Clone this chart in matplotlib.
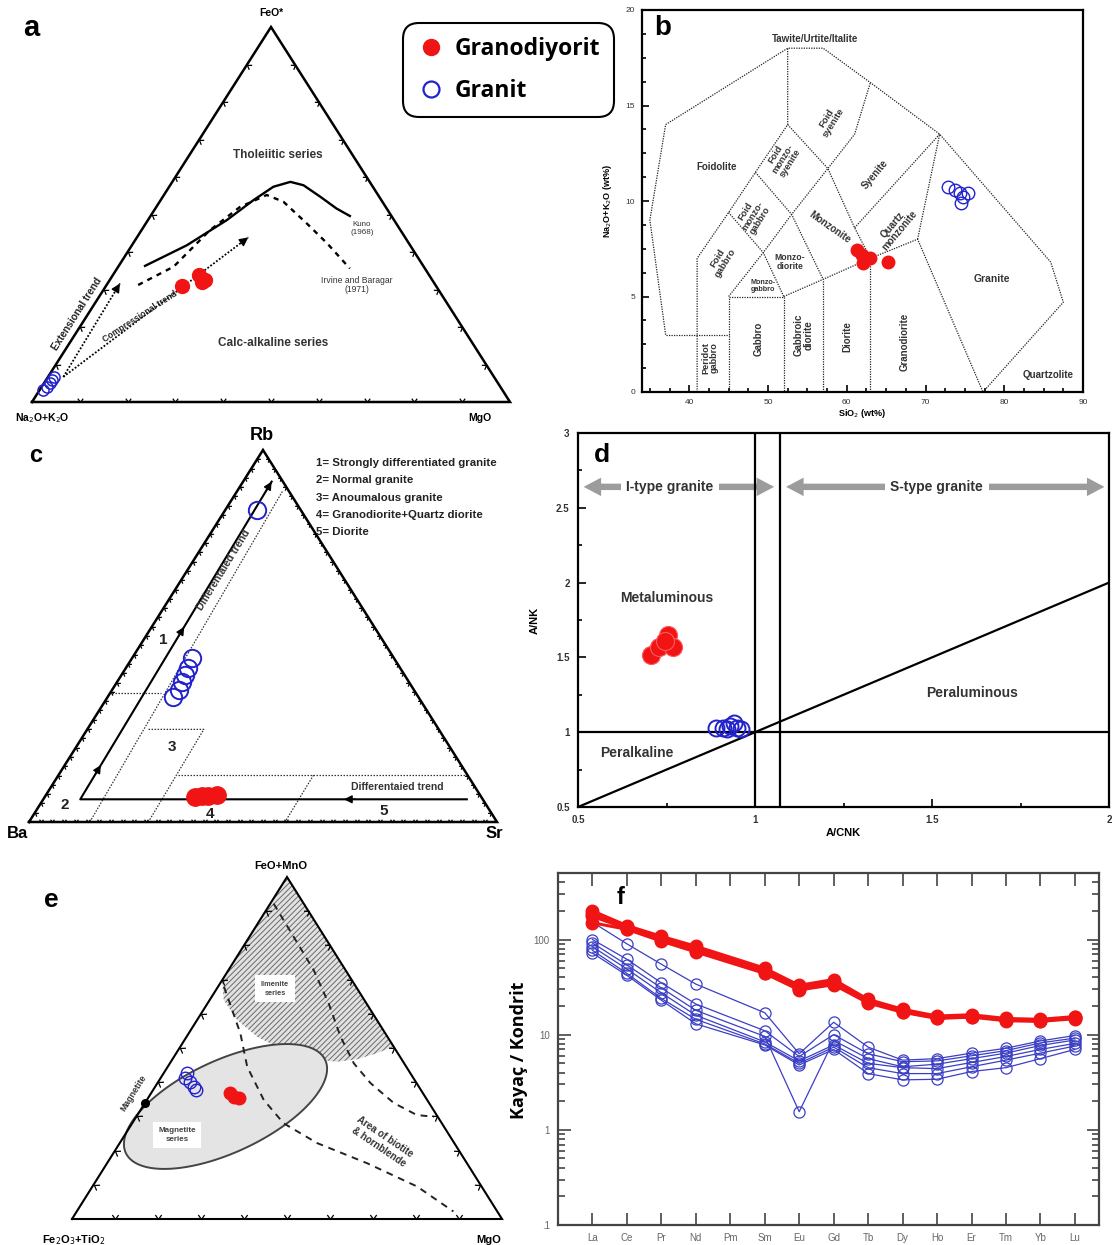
import numpy as np
import matplotlib

matplotlib.use("Agg")
import matplotlib.pyplot as plt
from matplotlib.lines import Line2D
from matplotlib.markers import MarkerStyle
from matplotlib.patches import FancyArrowPatch, Polygon
from matplotlib.path import Path
from matplotlib.ticker import FixedLocator, FormatStrFormatter, LogLocator, MultipleLocator, NullFormatter
from matplotlib.transforms import Affine2D

plt.rcParams["font.family"] = ["Liberation Sans", "DejaVu Sans"]
plt.rcParams["hatch.linewidth"] = 0.7

RED = "#f01414"
BLUE = "#2222cc"
W, H = 1112, 1245

# ---- (a) AFM ternary: fractions of FeO* (apex) and MgO (right corner) ----
afm_gd_feo = [0.309, 0.338, 0.325, 0.320]
afm_gd_mgo = [0.159, 0.181, 0.200, 0.195]
afm_gr_feo = [0.032, 0.041, 0.050, 0.059, 0.067]
afm_gr_mgo = [0.008, 0.011, 0.013, 0.012, 0.012]
kuno_feo = [0.363, 0.418, 0.485, 0.538, 0.574, 0.587, 0.578, 0.547, 0.516, 0.496]
kuno_mgo = [0.055, 0.115, 0.165, 0.194, 0.218, 0.247, 0.279, 0.330, 0.379, 0.417]
irvine_feo = [0.312, 0.361, 0.458, 0.520, 0.552, 0.534, 0.476, 0.423, 0.356]
irvine_mgo = [0.066, 0.116, 0.143, 0.175, 0.215, 0.259, 0.337, 0.406, 0.487]
ext_trend_feo = [0.067, 0.316]
ext_trend_mgo = [0.032, 0.026]
comp_trend_feo = [0.067, 0.439]
comp_trend_mgo = [0.032, 0.233]

# ---- (b) TAS (Middlemost 1994) ----
tas_gd_sio2 = [61.3, 61.9, 62.3, 62.9, 62.1, 65.2]
tas_gd_alk = [7.43, 7.17, 6.91, 7.00, 6.74, 6.82]
tas_gr_sio2 = [72.9, 73.7, 74.4, 75.4, 74.5, 74.8]
tas_gr_alk = [10.75, 10.58, 10.43, 10.40, 9.91, 10.20]
tas_lines = [
    [(37, 3), (35, 9), (37, 14), (52.5, 18), (57, 18), (63, 16.2), (71.8, 13.5),
     (85.9, 6.8), (87.5, 4.7), (77.3, 0)],
    [(37, 3), (45, 3)],
    [(41, 0), (41, 7), (45, 9.4), (48.4, 11.5), (52.5, 14), (52.5, 18)],
    [(45, 0), (45, 5), (52, 5), (52, 0)],
    [(57, 0), (57, 5.9)],
    [(63, 0), (63, 7)],
    [(52, 5), (57, 5.9), (63, 7), (69, 8), (77.3, 0)],
    [(69, 8), (71.8, 13.5)],
    [(45, 5), (49.4, 7.3), (53, 9.3), (57.6, 11.7), (61, 13.5), (63, 16.2)],
    [(45, 9.4), (49.4, 7.3), (52, 5)],
    [(48.4, 11.5), (53, 9.3), (57, 5.9)],
    [(52.5, 14), (57.6, 11.7), (61, 8.6), (63, 7)],
    [(61, 8.6), (71.8, 13.5)],
]
tas_labels = [
    ("Tawite/Urtite/Italite", 56.0, 18.5, 0, 7.0),
    ("Foidolite", 43.5, 11.8, 0, 7.0),
    ("Foid\nsyenite", 57.9, 14.2, 58, 6.8),
    ("Foid\nmonzo-\nsyenite", 51.9, 12.2, 58, 6.6),
    ("Foid\nmonzo-\ngabbro", 48.1, 9.2, 58, 6.6),
    ("Foid\ngabbro", 44.1, 6.9, 58, 6.8),
    ("Monzo-\ndiorite", 52.8, 6.8, 0, 6.2),
    ("Monzo-\ngabbro", 49.4, 5.55, 0, 5.2),
    ("Syenite", 63.6, 11.4, 50, 7.0),
    ("Monzonite", 57.9, 8.6, -35, 7.0),
    ("Quartz\nmonzonite", 66.3, 8.6, 50, 7.0),
    ("Granite", 78.4, 5.9, 0, 7.5),
    ("Granodiorite", 67.4, 2.6, 90, 7.0),
    ("Diorite", 60.1, 2.9, 90, 7.0),
    ("Gabbroic\ndiorite", 54.5, 3.0, 90, 7.0),
    ("Gabbro", 48.8, 2.8, 90, 7.0),
    ("Peridot\ngabbro", 42.6, 1.8, 90, 6.6),
    ("Quartzolite", 85.6, 0.9, 0, 7.0),
]

# ---- (c) Rb-Ba-Sr ternary: fractions of Rb (apex) and Sr (right corner) ----
rbs_gd_rb = [0.068, 0.070, 0.070, 0.072]
rbs_gd_sr = [0.321, 0.334, 0.348, 0.366]
rbs_gr_rb = [0.839, 0.440, 0.413, 0.395, 0.377, 0.355, 0.337]
rbs_gr_sr = [0.067, 0.128, 0.134, 0.136, 0.138, 0.142, 0.140]
rbs_fields = [
    [(0.0, 0.130), (0.892, 0.097)],
    [(0.348, 0.003), (0.348, 0.109)],
    [(0.249, 0.131), (0.249, 0.249), (0.0, 0.255)],
    [(0.126, 0.256), (0.126, 0.876)],
    [(0.126, 0.545), (0.0, 0.547)],
]
rbs_trend = [(0.061, 0.905), (0.061, 0.079), (0.915, 0.061)]
rbs_legend = ["1= Strongly differentiated granite", "2= Normal granite", "3= Anoumalous granite",
              "4= Granodiorite+Quartz diorite", "5= Diorite"]

# ---- (d) Shand index ----
shand_gd_acnk = [0.707, 0.728, 0.753, 0.769, 0.745]
shand_gd_ank = [1.514, 1.570, 1.648, 1.570, 1.610]
shand_gr_acnk = [0.89, 0.91, 0.93, 0.94, 0.95, 0.96, 0.92]
shand_gr_ank = [1.03, 1.03, 1.04, 1.06, 1.03, 1.02, 1.02]
shand_vlines = [1.0, 1.07]
shand_hline = 1.0
shand_diag_x = [0.5, 2.0]
shand_diag_y = [0.5, 2.0]

# ---- (e) FeO+MnO / Fe2O3+TiO2 / MgO ternary ----
mag_gr_fm = [0.426, 0.412, 0.402, 0.387, 0.377]
mag_gr_mgo = [0.054, 0.057, 0.074, 0.090, 0.099]
mag_gd_fm = [0.368, 0.358, 0.353]
mag_gd_mgo = [0.184, 0.197, 0.212]
ilm_fm = [0.698, 0.640, 0.582, 0.533, 0.494, 0.467, 0.460, 0.467, 0.485, 0.504]
ilm_mgo = [0.000, 0.033, 0.093, 0.164, 0.245, 0.329, 0.386, 0.430, 0.467, 0.496]
dash1_fm = [0.922, 0.825, 0.728, 0.630, 0.533, 0.455, 0.397, 0.339, 0.304, 0.299]
dash1_mgo = [0.008, 0.103, 0.198, 0.282, 0.358, 0.428, 0.496, 0.579, 0.650, 0.692]
dash2_fm = [0.679, 0.543, 0.445, 0.348, 0.280, 0.222, 0.163, 0.095, 0.022]
dash2_mgo = [0.014, 0.120, 0.185, 0.272, 0.352, 0.459, 0.605, 0.755, 0.876]
magnetite_fm, magnetite_mgo = 0.34, 0.0

# ---- (f) chondrite-normalised REE ----
ree = ["La", "Ce", "Pr", "Nd", "Pm", "Sm", "Eu", "Gd", "Tb", "Dy", "Ho", "Er", "Tm", "Yb", "Lu"]
ree_used = ["La", "Ce", "Pr", "Nd", "Sm", "Eu", "Gd", "Tb", "Dy", "Ho", "Er", "Tm", "Yb", "Lu"]
ree_gd = [
    [200, 140, 108, 85, 50, 33, 38, 23.5, 18.5, 15.7, 16.2, 14.8, 14.5, 15.5],
    [185, 135, 103, 80, 47, 31, 36, 22.5, 18.0, 15.3, 15.8, 14.4, 14.2, 15.2],
    [175, 130, 98, 76, 45, 30, 34, 22.0, 17.5, 15.0, 15.5, 14.2, 14.0, 15.0],
    [150, 128, 96, 74, 44, 29.5, 33.5, 21.5, 17.2, 14.8, 15.3, 14.0, 13.8, 14.7],
]
ree_gr = [
    [152, 90, 55, 34, 17, 6.3, 13.5, 7.4, 5.4, 5.6, 6.4, 7.2, 8.6, 9.8],
    [100, 62, 35, 21, 11, 5.9, 10.0, 6.3, 5.2, 5.3, 6.0, 6.8, 8.2, 9.2],
    [92, 54, 31, 18, 9.6, 1.55, 8.7, 5.6, 4.6, 4.9, 5.6, 6.4, 7.7, 8.8],
    [84, 49, 27.5, 16, 8.4, 5.3, 7.8, 5.0, 4.5, 4.4, 5.1, 5.9, 7.0, 8.1],
    [77, 44, 24, 14.5, 8.0, 5.0, 7.4, 4.5, 3.9, 3.9, 4.6, 5.4, 6.4, 7.6],
    [72, 42, 23, 13, 7.8, 4.8, 7.0, 3.9, 3.35, 3.4, 4.1, 4.5, 5.6, 7.0],
]

fig = plt.figure(figsize=(W / 100, H / 100), dpi=100)


def add_ax(l, t, r, b):
    return fig.add_axes([l / W, 1 - b / H, (r - l) / W, (b - t) / H])


def ftext(x, y, s, **kw):
    fig.text(x / W, 1 - y / H, s, **kw)


def tern(top, right):
    top = np.asarray(top, float)
    right = np.asarray(right, float)
    return right + top / 2, top


CHEVRON = Path([(-0.7, 1.0), (0.0, 0.0), (0.7, 1.0)], [Path.MOVETO, Path.LINETO, Path.LINETO])


def tri_axes(l, t, r, b, n, tick_ms, frame_lw=1.8):
    ax = add_ax(l, t, r, b)
    ax.set_xlim(0, 1)
    ax.set_ylim(0, 1)
    ax.axis("off")
    ax.plot([0, 1, 0.5, 0], [0, 0, 1, 0], color="k", lw=frame_lw, clip_on=False,
            solid_joinstyle="miter", zorder=3)
    w, h = r - l, b - t
    f = np.arange(1, n) / n
    ang = np.degrees(np.arctan2(h, w / 2))
    for xs, ys, rot in [(f, np.zeros_like(f), 0.0), (f / 2, f, ang - 180), (1 - f / 2, f, 180 - ang)]:
        m = MarkerStyle(CHEVRON, fillstyle="none", transform=Affine2D().rotate_deg(rot))
        ax.plot(xs, ys, ls="none", marker=m, ms=tick_ms, mec="k", mfc="none", mew=0.9,
                clip_on=False, zorder=3)
    return ax


def head(ax, p0, p1, size=11, color="k"):
    ax.annotate("", xy=p1, xytext=p0,
                arrowprops=dict(arrowstyle="-|>", color=color, lw=1.0, shrinkA=0, shrinkB=0,
                                mutation_scale=size))


bold = dict(fontweight="bold")

# ================= (a) =================
ax_a = tri_axes(32, 27, 510, 402, 10, 5.5)
x, y = tern(kuno_feo, kuno_mgo)
ax_a.plot(x, y, color="k", lw=1.7)
x, y = tern(irvine_feo, irvine_mgo)
ax_a.plot(x, y, color="k", lw=1.7, ls=(0, (2.2, 2.2)))
for feo, mgo in [(ext_trend_feo, ext_trend_mgo), (comp_trend_feo, comp_trend_mgo)]:
    x, y = tern(feo, mgo)
    ax_a.plot(x, y, color="k", lw=1.3, ls=(0, (1, 1)))
    head(ax_a, (x[1] - 0.04 * (x[1] - x[0]), y[1] - 0.04 * (y[1] - y[0])), (x[1], y[1]), 13)
x, y = tern(afm_gd_feo, afm_gd_mgo)
ax_a.plot(x, y, "o", ms=10, mfc=RED, mec=RED, zorder=5)
x, y = tern(afm_gr_feo, afm_gr_mgo)
ax_a.plot(x, y, "o", ms=8, mfc="none", mec=BLUE, mew=1.1, zorder=5)
ax_a.text(0.515, 0.659, "Tholeiitic series", ha="center", va="center", fontsize=8.5, color="#333", **bold)
ax_a.text(0.505, 0.156, "Calc-alkaline series", ha="center", va="center", fontsize=8.5, color="#333", **bold)
ax_a.text(0.69, 0.463, "Kuno\n(1968)", ha="center", va="center", fontsize=5.8, color="#333", linespacing=1.1)
ax_a.text(0.68, 0.312, "Irvine and Baragar\n(1971)", ha="center", va="center", fontsize=6.2, color="#333",
          linespacing=1.1)
ax_a.text(0.094, 0.236, "Extensional trend", ha="center", va="center", rotation=57.5, fontsize=7.2,
          color="#222", **bold)
ax_a.text(0.226, 0.227, "Compressional trend", ha="center", va="center", rotation=33, fontsize=6.2,
          color="#222", **bold)
ftext(271, 13, "FeO*", ha="center", va="center", fontsize=7.5, **bold)
ftext(42, 418, "Na$_2$O+K$_2$O", ha="center", va="center", fontsize=7.5, **bold)
ftext(480, 418, "MgO", ha="center", va="center", fontsize=7.5, **bold)

handles = [Line2D([], [], ls="none", marker="o", ms=11.5, mfc=RED, mec=RED),
           Line2D([], [], ls="none", marker="o", ms=11.5, mfc="none", mec=BLUE, mew=1.6)]
leg = fig.legend(handles, ["Granodiyorit", "Granit"], loc="upper left",
                 bbox_to_anchor=(403 / W, 1 - 23 / H), bbox_transform=fig.transFigure,
                 prop=dict(family=["Open Sans", "DejaVu Sans"], weight="bold", size=16.5),
                 frameon=True, fancybox=True, framealpha=1, edgecolor="k", borderpad=0.6,
                 handletextpad=0.45, labelspacing=0.8, handlelength=1.2, borderaxespad=0)
leg.get_frame().set_linewidth(1.5)
leg.get_frame().set_boxstyle("round,pad=0,rounding_size=0.7")

# ================= (b) =================
ax_b = add_ax(642, 10, 1083, 392)
ax_b.set_xlim(34, 90)
ax_b.set_ylim(0, 20)
for line in tas_lines:
    xs, ys = zip(*line)
    ax_b.plot(xs, ys, color="#222", lw=0.9, ls=(0, (1, 1)))
for s, tx, ty, rot, fs in tas_labels:
    ax_b.text(tx, ty, s, ha="center", va="center", rotation=rot, fontsize=fs, color="#333",
              linespacing=0.95, **bold)
ax_b.plot(tas_gd_sio2, tas_gd_alk, "o", ms=9, mfc=RED, mec=RED, zorder=5)
ax_b.plot(tas_gr_sio2, tas_gr_alk, "o", ms=9, mfc="none", mec=BLUE, mew=1.0, zorder=5)
ax_b.xaxis.set_major_locator(MultipleLocator(10))
ax_b.xaxis.set_minor_locator(MultipleLocator(2.5))
ax_b.yaxis.set_major_locator(MultipleLocator(5))
ax_b.yaxis.set_minor_locator(MultipleLocator(1.25))
ax_b.tick_params(which="both", direction="in", labelsize=6, width=1.2, pad=5, labelcolor="#333")
ax_b.tick_params(which="major", length=5)
ax_b.tick_params(which="minor", length=3)
for sp in ax_b.spines.values():
    sp.set_linewidth(1.6)
ax_b.set_xlabel("SiO$_2$ (wt%)", fontsize=6.5, labelpad=1, **bold)
ax_b.set_ylabel("Na$_2$O+K$_2$O (wt%)", fontsize=6.5, labelpad=8, **bold)

# ================= (c) =================
ax_c = tri_axes(29, 450, 497, 822, 40, 4.0)
for line in rbs_fields:
    x, y = tern(*zip(*line))
    ax_c.plot(x, y, color="#333", lw=0.9, ls=(0, (1.2, 1.2)))
x, y = tern(*zip(*rbs_trend))
ax_c.plot(x, y, color="k", lw=1.5)
for seg, ts in [((0, 1), [0.318, 0.729]), ((1, 2), [0.108, 0.543, 1.0])]:
    p0 = np.array([x[seg[0]], y[seg[0]]])
    p1 = np.array([x[seg[1]], y[seg[1]]])
    for t in ts:
        head(ax_c, p0 + (t - 0.03) * (p1 - p0), p0 + t * (p1 - p0), 12)
x, y = tern(rbs_gr_rb, rbs_gr_sr)
ax_c.plot(x, y, "o", ms=12.5, mfc="none", mec=BLUE, mew=1.4, zorder=5)
x, y = tern(rbs_gd_rb, rbs_gd_sr)
ax_c.plot(x, y, "o", ms=12.5, mfc=RED, mec=RED, zorder=5)
for s, tx, ty in [("1", 0.287, 0.489), ("2", 0.077, 0.046), ("3", 0.305, 0.202), ("4", 0.387, 0.022),
                  ("5", 0.757, 0.030)]:
    ax_c.text(tx, ty, s, ha="center", va="center", fontsize=11, color="#222", **bold)
ax_c.text(0.415, 0.677, "Differentaied trend", ha="center", va="center", rotation=58.5, fontsize=7.5,
          color="#333", **bold)
ax_c.text(0.786, 0.093, "Differentaied trend", ha="center", va="center", fontsize=7.5, color="#333", **bold)
for i, s in enumerate(rbs_legend):
    ftext(316, 463 + 17.3 * i, s, ha="left", va="center", fontsize=8.2, color="#222",
          family=["Liberation Sans Narrow", "Liberation Sans", "DejaVu Sans"], **bold)
ftext(262, 436, "Rb", ha="center", va="center", fontsize=13, **bold)
ftext(17, 834, "Ba", ha="center", va="center", fontsize=12, **bold)
ftext(494, 834, "Sr", ha="center", va="center", fontsize=12, **bold)

# ================= (d) =================
ax_d = add_ax(578, 433, 1109, 807)
ax_d.set_xlim(0.5, 2)
ax_d.set_ylim(0.5, 3)
for xv in shand_vlines:
    ax_d.axvline(xv, color="k", lw=1.6)
ax_d.axhline(shand_hline, color="k", lw=1.6)
ax_d.plot(shand_diag_x, shand_diag_y, color="k", lw=1.6)
ax_d.plot(shand_gd_acnk, shand_gd_ank, "o", ms=13, mfc=RED, mec="#ff5a5a", mew=0.8, zorder=5)
ax_d.plot(shand_gr_acnk, shand_gr_ank, "o", ms=11.5, mfc="none", mec=BLUE, mew=1.4, zorder=5)
GRAY = "#9c9c9c"
for x0, xc, x1, s in [(0.508, 0.76, 1.062, "I-type granite"), (1.08, 1.513, 1.995, "S-type granite")]:
    for xe in (x0, x1):
        ax_d.add_patch(FancyArrowPatch((xc, 2.64), (xe, 2.64), mutation_scale=14, color=GRAY, lw=0,
                                       arrowstyle="simple,head_length=0.9,head_width=0.95,tail_width=0.33"))
    ax_d.text(xc, 2.64, s, ha="center", va="center", fontsize=10, color="#333",
              bbox=dict(fc="white", ec="none", pad=4), **bold)
ax_d.text(0.75, 1.895, "Metaluminous", ha="center", va="center", fontsize=10, color="#333", **bold)
ax_d.text(1.612, 1.26, "Peraluminous", ha="center", va="center", fontsize=10, color="#333", **bold)
ax_d.text(0.666, 0.86, "Peralkaline", ha="center", va="center", fontsize=10, color="#333", **bold)
ax_d.xaxis.set_major_locator(MultipleLocator(0.5))
ax_d.xaxis.set_minor_locator(MultipleLocator(0.25))
ax_d.yaxis.set_major_locator(MultipleLocator(0.5))
ax_d.yaxis.set_minor_locator(MultipleLocator(0.25))
ax_d.xaxis.set_major_formatter(FormatStrFormatter("%g"))
ax_d.yaxis.set_major_formatter(FormatStrFormatter("%g"))
ax_d.tick_params(which="both", direction="in", labelsize=7, width=1.2, pad=6, labelcolor="#333")
ax_d.tick_params(which="major", length=6)
ax_d.tick_params(which="minor", length=3)
for lab in ax_d.get_xticklabels() + ax_d.get_yticklabels():
    lab.set_fontweight("bold")
for sp in ax_d.spines.values():
    sp.set_linewidth(1.6)
ax_d.set_xlabel("A/CNK", fontsize=8, labelpad=2, **bold)
ax_d.set_ylabel("A/NK", fontsize=8, labelpad=12, **bold)

# ================= (e) =================
ax_e = tri_axes(72, 877, 502, 1219, 10, 6.5, frame_lw=1.5)
x, y = tern(ilm_fm + [1.0], ilm_mgo + [0.0])
ax_e.add_patch(Polygon(np.column_stack([x, y]), closed=True, fc="#e2e2e2", ec="#6a6a6a", lw=0,
                       hatch="//////", zorder=1))
# magnetite-series ellipse (centre in axes units, semi-axes in pixels)
t = np.linspace(0, 2 * np.pi, 200)
th = np.radians(25)
ea, eb = 110, 46
ex = 0.357 + (ea * np.cos(t) * np.cos(th) - eb * np.sin(t) * np.sin(th)) / 430
ey = 0.329 + (ea * np.cos(t) * np.sin(th) + eb * np.sin(t) * np.cos(th)) / 342
ax_e.add_patch(Polygon(np.column_stack([ex, ey]), closed=True, fc="#e4e4e4", ec="#444", lw=1.4, zorder=1))
for fm, mg in [(dash1_fm, dash1_mgo), (dash2_fm, dash2_mgo)]:
    x, y = tern(fm, mg)
    ax_e.plot(x, y, color="#222", lw=1.4, ls=(0, (3.5, 3)), zorder=2)
x, y = tern(magnetite_fm, magnetite_mgo)
ax_e.plot(x, y, "o", ms=5.5, color="k", zorder=4)
ax_e.text(0.143, 0.368, "Magnetite", ha="center", va="center", rotation=58, fontsize=6.3, color="#333", **bold)
ax_e.text(0.472, 0.673, "Ilmenite\nseries", ha="center", va="center", fontsize=5.3, color="#444",
          linespacing=1.4, bbox=dict(fc="white", ec="none", pad=4), zorder=3, **bold)
ax_e.text(0.244, 0.246, "Magnetite\nseries", ha="center", va="center", fontsize=5.8, color="#444",
          linespacing=1.3, bbox=dict(fc="white", ec="none", pad=4), zorder=3, **bold)
ax_e.text(0.72, 0.225, "Area of biotite\n& hornblende", ha="center", va="center", rotation=-34, fontsize=7,
          color="#333", linespacing=1.2, **bold)
x, y = tern(mag_gr_fm, mag_gr_mgo)
ax_e.plot(x, y, "o", ms=9, mfc="none", mec=BLUE, mew=1.0, zorder=5)
x, y = tern(mag_gd_fm, mag_gd_mgo)
ax_e.plot(x, y, "o", ms=9, mfc=RED, mec=RED, zorder=5)
ftext(281, 866, "FeO+MnO", ha="center", va="center", fontsize=8, **bold)
ftext(74, 1240, "Fe$_2$O$_3$+TiO$_2$", ha="center", va="center", fontsize=8, **bold)
ftext(489, 1240, "MgO", ha="center", va="center", fontsize=8, **bold)

# ================= (f) =================
ax_f = add_ax(558, 873, 1099, 1225)
ax_f.set_yscale("log")
ax_f.set_ylim(0.1, 500)
ax_f.set_xlim(-1, 14.7)
ree_pos = [ree.index(el) for el in ree_used]
for row in ree_gr:
    ax_f.plot(ree_pos, row, "-o", color="#3b3fc4", lw=0.9, ms=8, mfc="none", mec="#3b3fc4", mew=0.9)
for row in ree_gd:
    ax_f.plot(ree_pos, row, "-o", color=RED, lw=2.2, ms=9, mfc=RED, mec=RED)
ax_f.xaxis.set_major_locator(FixedLocator(range(len(ree))))
ax_f.set_xticklabels(ree)
ax_f.yaxis.set_major_locator(FixedLocator([0.1, 1, 10, 100]))
ax_f.set_yticklabels([".1", "1", "10", "100"])
ax_f.yaxis.set_minor_locator(LogLocator(base=10, subs=np.arange(2, 10)))
ax_f.yaxis.set_minor_formatter(NullFormatter())
ax_f.tick_params(which="both", direction="in", top=True, right=True, width=1.2, color="#444",
                 labelsize=7, labelcolor="#666", pad=6)
ax_f.tick_params(which="major", length=9)
ax_f.tick_params(which="minor", length=5)
for sp in ax_f.spines.values():
    sp.set_linewidth(1.6)
    sp.set_color("#444")
ftext(519, 1050, "Kayaç / Kondrit", ha="center", va="center", rotation=90, fontsize=13,
      family=["Open Sans", "DejaVu Sans"], **bold)

# panel letters
for s, px, py, fs in [("a", 31, 28, 21), ("b", 663, 28, 20), ("c", 36, 455, 17), ("d", 602, 455, 19),
                      ("e", 51, 900, 19), ("f", 621, 898, 17)]:
    ftext(px, py, s, ha="center", va="center", fontsize=fs, **bold)

fig.savefig("out.png", dpi=100)
